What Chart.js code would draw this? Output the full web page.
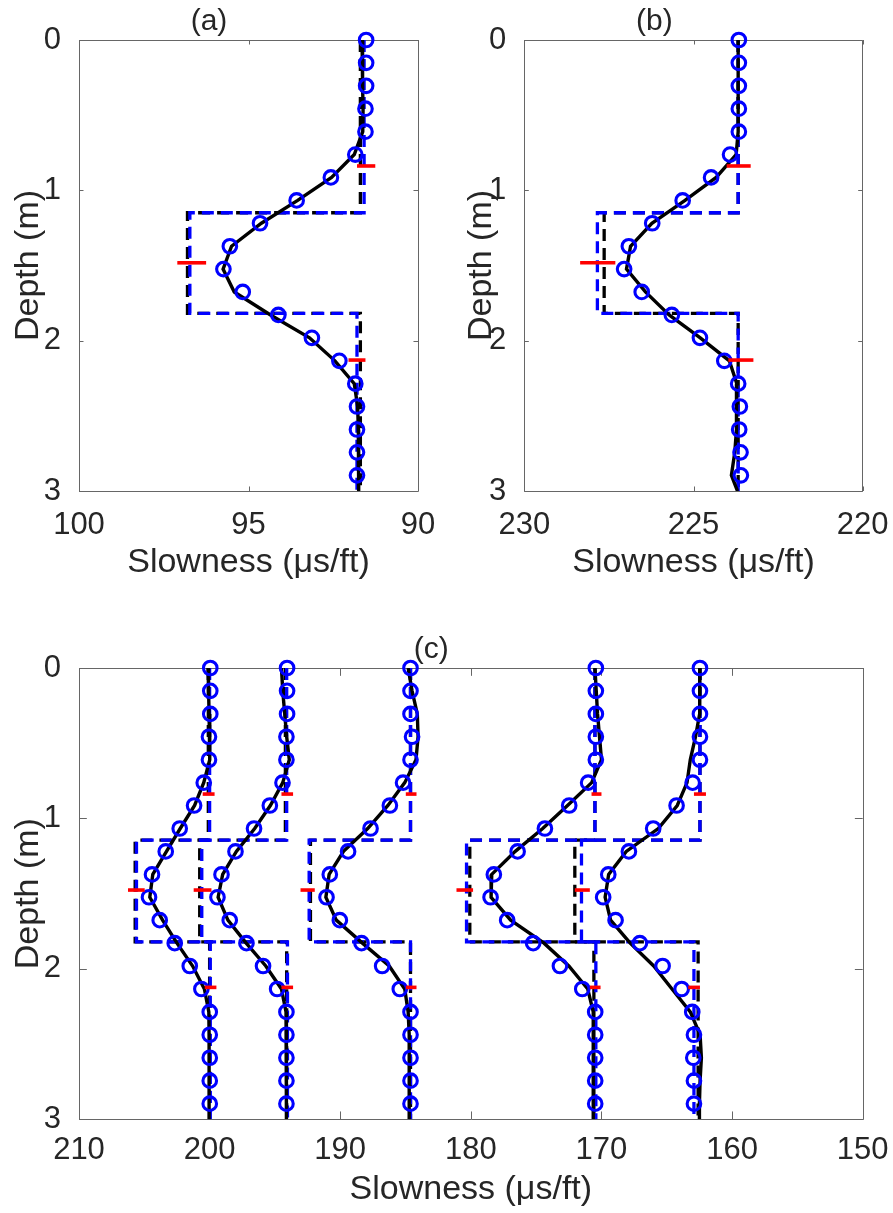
<!DOCTYPE html>
<html>
<head>
<meta charset="utf-8">
<title>Slowness profiles</title>
<script src="https://cdn.jsdelivr.net/npm/chart.js@4.4.1/dist/chart.umd.min.js"></script>
<style>
  html, body { margin: 0; padding: 0; background: #fff; }
  #page { position: relative; width: 893px; height: 1213px; overflow: hidden; }
  .panel { position: absolute; }
</style>
</head>
<body>
<div id="page">
  <div class="panel" style="left:0;top:0;width:446px;height:600px"><canvas id="chartA"></canvas></div>
  <div class="panel" style="left:446px;top:0;width:447px;height:600px"><canvas id="chartB"></canvas></div>
  <div class="panel" style="left:0;top:620px;width:893px;height:593px"><canvas id="chartC"></canvas></div>
</div>
<script>
// depth samples (m), every half foot
const depth = [0, 0.152, 0.305, 0.457, 0.610, 0.762, 0.914, 1.067, 1.219, 1.372,
  1.524, 1.676, 1.829, 1.981, 2.134, 2.286, 2.438, 2.591, 2.743, 2.896];
const curveEnd = 3.0;
const depthTicks = [0, 1, 2, 3];

// layer boundaries (m)
const boundsAB = [1.149, 1.818];
const boundsC = [1.144, 1.820];

// (a)
const aTicks = [90, 95, 100];
const aCircles = [91.53, 91.53, 91.53, 91.55, 91.55, 91.85, 92.57, 93.58, 94.66, 95.55,
  95.74, 95.17, 94.12, 93.13, 92.32, 91.85, 91.80, 91.80, 91.80, 91.80];
const aCurve = [91.65, 91.64, 91.63, 91.62, 91.63, 91.88, 92.55, 93.55, 94.62, 95.50,
  95.75, 95.42, 94.35, 93.20, 92.45, 91.88, 91.78, 91.76, 91.75, 91.75, 91.75];
const aTrue = [91.70, 96.80, 91.70];
const aInv = [91.59, 96.73, 91.80];
const aRed = [[0.838, 91.80, 91.26], [1.482, 97.10, 96.25], [2.129, 92.05, 91.55]];

// (b)
const bTicks = [220, 225, 230];
const bCircles = [223.66, 223.66, 223.66, 223.66, 223.66, 223.92, 224.48, 225.32, 226.22, 226.91,
  227.05, 226.53, 225.64, 224.81, 224.09, 223.68, 223.63, 223.65, 223.61, 223.60];
const bCurve = [223.68, 223.68, 223.68, 223.68, 223.68, 223.74, 224.33, 225.25, 226.23, 226.86,
  226.98, 226.42, 225.72, 224.80, 223.94, 223.72, 223.72, 223.74, 223.78, 223.88, 223.70];
const bTrue = [223.68, 227.64, 223.68];
const bInv = [223.68, 227.84, 223.68];
const bRed = [[0.838, 224.02, 223.31], [1.482, 228.35, 227.31], [2.129, 223.97, 223.23]];

// (c) five profiles
const cTicks = [150, 160, 170, 180, 190, 200, 210];
const c1Circles = [199.95, 199.95, 199.95, 200.05, 200.05, 200.45, 201.19, 202.29, 203.36, 204.41,
  204.64, 203.82, 202.67, 201.52, 200.63, 199.99, 199.99, 199.99, 199.99, 199.99];
const c1Curve = [200.12, 200.08, 200.04, 200.00, 199.98, 200.45, 201.15, 202.25, 203.30, 204.35,
  204.58, 203.60, 202.50, 201.30, 200.40, 200.06, 200.04, 200.04, 200.04, 200.04, 200.04];
const c1True = [200.10, 205.70, 200.00];
const c1Inv = [200.00, 205.60, 199.95];
const c1Red = [[0.838, 200.53, 199.62], [1.476, 206.25, 204.97], [2.123, 200.37, 199.48]];

const c2Circles = [194.07, 194.07, 194.07, 194.12, 194.12, 194.42, 195.39, 196.60, 198.02, 199.09,
  199.40, 198.46, 197.18, 195.91, 194.83, 194.12, 194.12, 194.12, 194.12, 194.12];
const c2Curve = [194.50, 194.40, 194.25, 194.10, 193.90, 194.40, 195.35, 196.55, 197.95, 199.00,
  199.35, 198.60, 197.20, 195.70, 194.50, 194.15, 194.12, 194.12, 194.12, 194.12, 194.12];
const c2True = [194.20, 200.76, 194.10];
const c2Inv = [194.10, 200.60, 194.04];
const c2Red = [[0.838, 194.50, 193.61], [1.476, 201.22, 199.86], [2.123, 194.50, 193.61]];

const c3Circles = [184.62, 184.62, 184.62, 184.50, 184.62, 185.19, 186.20, 187.68, 189.40, 190.80,
  191.05, 190.03, 188.37, 186.79, 185.44, 184.62, 184.62, 184.62, 184.62, 184.62];
const c3Curve = [184.80, 184.50, 184.10, 184.04, 184.20, 185.06, 186.35, 187.90, 189.75, 190.85,
  191.10, 190.30, 188.30, 186.25, 185.06, 184.80, 184.72, 184.72, 184.72, 184.72, 184.72];
const c3True = [184.62, 192.28, 184.62];
const c3Inv = [184.62, 192.38, 184.62];
const c3Red = [[0.838, 184.98, 184.16], [1.476, 193.04, 191.95], [2.123, 184.98, 184.16]];

const c4Circles = [170.43, 170.43, 170.43, 170.43, 170.43, 171.02, 172.47, 174.33, 176.42, 178.24,
  178.49, 177.22, 175.23, 173.18, 171.47, 170.48, 170.48, 170.48, 170.48, 170.48];
const c4Curve = [170.50, 170.40, 170.30, 170.15, 170.00, 170.75, 172.60, 174.50, 176.60, 178.40,
  178.45, 176.95, 174.40, 172.50, 171.05, 170.63, 170.63, 170.63, 170.63, 170.63, 170.63];
const c4True = [170.50, 180.08, 170.58];
const c4Inv = [170.50, 180.33, 170.43];
const c4Red = [[0.838, 170.76, 170.00], [1.476, 181.10, 179.83], [2.123, 170.89, 170.07]];

const c5Circles = [162.46, 162.46, 162.46, 162.46, 162.46, 163.02, 164.25, 166.04, 167.90, 169.48,
  169.87, 168.92, 167.06, 165.32, 163.86, 163.05, 162.92, 162.97, 162.92, 162.92];
const c5Curve = [162.46, 162.46, 162.50, 162.80, 163.20, 163.45, 164.20, 165.65, 168.10, 169.45,
  169.72, 169.30, 167.80, 166.00, 164.60, 163.20, 162.45, 162.35, 162.45, 162.50, 162.50];
const c5True = [162.46, 172.04, 162.60];
const c5Inv = [162.46, 171.53, 162.92];
const c5Red = [[0.838, 162.92, 162.00], [1.476, 172.04, 170.89], [2.123, 163.36, 162.46]];

const FONT = "'Liberation Sans', Arial, Helvetica, sans-serif";
const TEXT = '#262626';

// MATLAB-like box with inward ticks
const boxTicks = {
  id: 'boxTicks',
  beforeDatasetsDraw(chart) {
    const { ctx, chartArea: a, scales: { x, y } } = chart;
    const len = 0.01 * Math.max(a.right - a.left, a.bottom - a.top);
    ctx.save();
    ctx.strokeStyle = '#666';
    ctx.lineWidth = 1;
    ctx.beginPath();
    ctx.rect(Math.round(a.left) + 0.5, Math.round(a.top) + 0.5,
      Math.round(a.right - a.left), Math.round(a.bottom - a.top));
    x.ticks.forEach(t => {
      const px = Math.round(x.getPixelForValue(t.value)) + 0.5;
      ctx.moveTo(px, a.top); ctx.lineTo(px, a.top + len);
      ctx.moveTo(px, a.bottom); ctx.lineTo(px, a.bottom - len);
    });
    y.ticks.forEach(t => {
      const py = Math.round(y.getPixelForValue(t.value)) + 0.5;
      ctx.moveTo(a.left, py); ctx.lineTo(a.left + len, py);
      ctx.moveTo(a.right, py); ctx.lineTo(a.right - len, py);
    });
    ctx.stroke();
    ctx.restore();
  }
};

function points(vals, depths) {
  return vals.map((v, i) => ({ x: v, y: depths[i] }));
}

function modelPoints(vals, bounds) {
  return [
    { x: vals[0], y: 0 }, { x: vals[0], y: bounds[0] },
    { x: vals[1], y: bounds[0] }, { x: vals[1], y: bounds[1] },
    { x: vals[2], y: bounds[1] }, { x: vals[2], y: curveEnd }
  ];
}

function profileSets(circles, curve, trueModel, invModel, red, bounds) {
  const curveDepth = depth.concat([curveEnd]);
  const sets = [
    { data: modelPoints(trueModel, bounds), showLine: true, borderColor: '#000', borderWidth: 3.3,
      borderDash: [12, 7], pointRadius: 0, order: 4 },
    { data: modelPoints(invModel, bounds), showLine: true, borderColor: '#0000ff', borderWidth: 3.3,
      borderDash: [12, 7], pointRadius: 0, order: 3 },
    { data: points(curve, curveDepth), showLine: true, borderColor: '#000', borderWidth: 3.4,
      pointRadius: 0, order: 2 },
    { data: points(circles, depth), showLine: false, pointStyle: 'circle', pointRadius: 6.8,
      pointBorderWidth: 3.1, pointBorderColor: '#0000ff', pointBackgroundColor: 'rgba(0,0,0,0)',
      order: 1, clip: false }
  ];
  red.forEach(m => {
    sets.push({ data: [{ x: m[1], y: m[0] }, { x: m[2], y: m[0] }], showLine: true,
      borderColor: '#ff0000', borderWidth: 3.6, pointRadius: 0, order: 0, clip: false });
  });
  return sets;
}

function makeChart(id, o) {
  new Chart(document.getElementById(id), {
    type: 'scatter',
    data: { datasets: o.datasets },
    plugins: [boxTicks],
    options: {
      responsive: true,
      maintainAspectRatio: false,
      animation: false,
      events: [],
      layout: { padding: { left: 0, right: o.padRight, top: 0, bottom: 0 } },
      plugins: {
        legend: { display: false },
        tooltip: { enabled: false },
        title: {
          display: true, text: o.title, color: TEXT,
          font: { family: FONT, size: 30, weight: 'normal' },
          padding: { top: o.titleTop, bottom: 0 }
        }
      },
      scales: {
        x: {
          type: 'linear', reverse: true, min: o.xTicks[0], max: o.xTicks[o.xTicks.length - 1],
          grid: { display: false }, border: { display: false },
          ticks: { color: TEXT, font: { family: FONT, size: 31 }, padding: o.xTickPad, maxRotation: 0 },
          title: { display: true, text: 'Slowness (μs/ft)', color: TEXT,
            font: { family: FONT, size: 34 }, padding: { top: 0, bottom: o.xTitlePad } },
          afterBuildTicks: s => { s.ticks = o.xTicks.map(v => ({ value: v })); },
          afterFit: s => { s.height = o.xHeight; s.paddingLeft = 0; s.paddingRight = 0; }
        },
        y: {
          type: 'linear', reverse: true, min: 0, max: 3,
          grid: { display: false }, border: { display: false },
          ticks: { color: TEXT, font: { family: FONT, size: 31 }, padding: 10 },
          title: { display: true, text: 'Depth (m)', color: TEXT,
            font: { family: FONT, size: 34 }, padding: { top: o.yTitlePad, bottom: 0 } },
          afterBuildTicks: s => { s.ticks = depthTicks.map(v => ({ value: v })); },
          afterFit: s => { s.width = o.yWidth; s.paddingTop = 0; s.paddingBottom = 0; }
        }
      }
    }
  });
}

document.addEventListener('DOMContentLoaded', function () {
  makeChart('chartA', {
    title: '(a)', titleTop: 4, xTicks: aTicks, padRight: 28, yWidth: 79, xHeight: 109,
    xTickPad: 8, xTitlePad: 17, yTitlePad: 8,
    datasets: profileSets(aCircles, aCurve, aTrue, aInv, aRed, boundsAB)
  });

  makeChart('chartB', {
    title: '(b)', titleTop: 4, xTicks: bTicks, padRight: 30.3, yWidth: 78.3, xHeight: 109,
    xTickPad: 8, xTitlePad: 17, yTitlePad: 15,
    datasets: profileSets(bCircles, bCurve, bTrue, bInv, bRed, boundsAB)
  });

  const cSets = []
    .concat(profileSets(c1Circles, c1Curve, c1True, c1Inv, c1Red, boundsC))
    .concat(profileSets(c2Circles, c2Curve, c2True, c2Inv, c2Red, boundsC))
    .concat(profileSets(c3Circles, c3Curve, c3True, c3Inv, c3Red, boundsC))
    .concat(profileSets(c4Circles, c4Curve, c4True, c4Inv, c4Red, boundsC))
    .concat(profileSets(c5Circles, c5Curve, c5True, c5Inv, c5Red, boundsC));
  makeChart('chartC', {
    title: '(c)', titleTop: 12, xTicks: cTicks, padRight: 30.3, yWidth: 79, xHeight: 93.7,
    xTickPad: 5, xTitlePad: 3, yTitlePad: 8,
    datasets: cSets
  });
});
</script>
</body>
</html>
